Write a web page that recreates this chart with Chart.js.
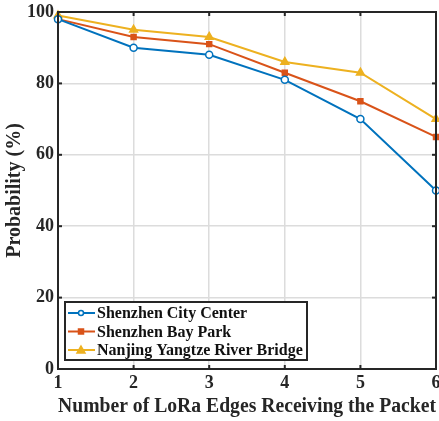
<!DOCTYPE html>
<html>
<head>
<meta charset="utf-8">
<script src="https://cdn.jsdelivr.net/npm/chart.js@4"></script>
<style>
  html, body { margin: 0; padding: 0; background: #fff; }
  #wrap { width: 439px; height: 421px; position: relative; }
</style>
</head>
<body>
<div id="wrap"><canvas id="c" width="439" height="421"></canvas></div>
<script>
// data
const edges = [1, 2, 3, 4, 5, 6];
const cityCenter = [98, 90, 88, 81, 70, 50];
const bayPark = [98, 93, 91, 83, 75, 65];
const yangtzeBridge = [99, 95, 93, 86, 83, 70];
const yTicks = [0, 20, 40, 60, 80, 100];

const FONT = "'Liberation Serif', 'Times New Roman', serif";
const AXIS = '#262626';

const series = [
  { label: 'Shenzhen City Center', data: cityCenter, color: '#0072BD', style: 'circle', fill: '#ffffff' },
  { label: 'Shenzhen Bay Park', data: bayPark, color: '#D95319', style: 'rect', fill: '#D95319' },
  { label: 'Nanjing Yangtze River Bridge', data: yangtzeBridge, color: '#EDB120', style: 'triangle', fill: '#EDB120' },
];

// frame + inward ticks on top / right, like the matlab box
const boxPlugin = {
  id: 'box',
  afterDatasetsDraw(chart) {
    const { ctx, chartArea: a, scales } = chart;
    ctx.save();
    ctx.strokeStyle = AXIS;
    ctx.lineWidth = 2;
    ctx.strokeRect(a.left, a.top, a.right - a.left, a.bottom - a.top);
    edges.forEach(v => {
      const x = scales.x.getPixelForValue(v);
      ctx.beginPath(); ctx.moveTo(x, a.top); ctx.lineTo(x, a.top + 4); ctx.stroke();
      ctx.beginPath(); ctx.moveTo(x, a.bottom); ctx.lineTo(x, a.bottom - 4); ctx.stroke();
    });
    yTicks.forEach(v => {
      const y = scales.y.getPixelForValue(v);
      ctx.beginPath(); ctx.moveTo(a.left, y); ctx.lineTo(a.left + 4, y); ctx.stroke();
      ctx.beginPath(); ctx.moveTo(a.right, y); ctx.lineTo(a.right - 4, y); ctx.stroke();
    });
    ctx.restore();
  },
  afterDraw(chart) {
    // legend box inside the plot, lower left
    const { ctx, chartArea: a } = chart;
    const bx = a.left + 7, by = a.bottom - 67, bw = 242, bh = 58;
    ctx.save();
    ctx.fillStyle = '#fff';
    ctx.fillRect(bx, by, bw, bh);
    ctx.strokeStyle = AXIS;
    ctx.lineWidth = 2;
    ctx.strokeRect(bx, by, bw, bh);
    ctx.font = `bold 16px ${FONT}`;
    ctx.textBaseline = 'middle';
    series.forEach((s, i) => {
      const y = by + 11 + i * 18.5;
      ctx.strokeStyle = s.color;
      ctx.lineWidth = 2;
      ctx.beginPath(); ctx.moveTo(bx + 3, y); ctx.lineTo(bx + 30, y); ctx.stroke();
      ctx.fillStyle = s.fill;
      ctx.lineWidth = 1.5;
      const mx = bx + 16;
      ctx.beginPath();
      if (s.style === 'circle') ctx.arc(mx, y, 2.5, 0, Math.PI * 2);
      else if (s.style === 'rect') ctx.rect(mx - 2.5, y - 2.5, 5, 5);
      else { ctx.moveTo(mx, y - 4); ctx.lineTo(mx + 4, y + 3); ctx.lineTo(mx - 4, y + 3); ctx.closePath(); }
      ctx.fill(); ctx.stroke();
      ctx.fillStyle = '#111';
      ctx.fillText(s.label, bx + 32, y + 1);
    });
    ctx.restore();
  }
};

new Chart(document.getElementById('c'), {
  type: 'line',
  data: {
    datasets: series.map(s => ({
      label: s.label,
      data: edges.map((e, i) => ({ x: e, y: s.data[i] })),
      borderColor: s.color,
      backgroundColor: s.fill,
      pointBackgroundColor: s.fill,
      pointBorderColor: s.color,
      pointStyle: s.style,
      pointRadius: s.style === 'triangle' ? 4.5 : 3.5,
      pointBorderWidth: 1.5,
      borderWidth: 2,
      tension: 0,
      clip: false,
    }))
  },
  options: {
    responsive: false,
    animation: false,
    layout: { autoPadding: false, padding: { left: 0, right: 3, top: 12, bottom: 0 } },
    plugins: { legend: { display: false }, tooltip: { enabled: false } },
    scales: {
      x: {
        type: 'linear', min: 1, max: 6,
        afterFit: s => { s.height = 52; s.paddingRight = 0; s.paddingLeft = 0; },
        afterBuildTicks: s => { s.ticks = edges.map(v => ({ value: v })); },
        grid: { color: '#dcdcdc', lineWidth: 1.5, drawTicks: false },
        border: { display: false },
        ticks: { color: '#262626', padding: 4, maxRotation: 0, font: { family: FONT, size: 18, weight: 'bold' } },
        title: { display: true, text: 'Number of LoRa Edges Receiving the Packet', color: '#262626', padding: { top: 0, bottom: 2 }, font: { family: FONT, size: 20, weight: 'bold' } }
      },
      y: {
        min: 0, max: 100,
        afterFit: s => { s.width = 58; s.paddingTop = 0; s.paddingBottom = 0; },
        afterBuildTicks: s => { s.ticks = yTicks.map(v => ({ value: v })); },
        grid: { color: '#dcdcdc', lineWidth: 1.5, drawTicks: false },
        border: { display: false },
        ticks: { color: '#262626', padding: 4, font: { family: FONT, size: 18, weight: 'bold' } },
        title: { display: true, text: 'Probability (%)', color: '#262626', padding: { top: 3, bottom: 2 }, font: { family: FONT, size: 20, weight: 'bold' } }
      }
    }
  },
  plugins: [boxPlugin]
});
</script>
</body>
</html>
